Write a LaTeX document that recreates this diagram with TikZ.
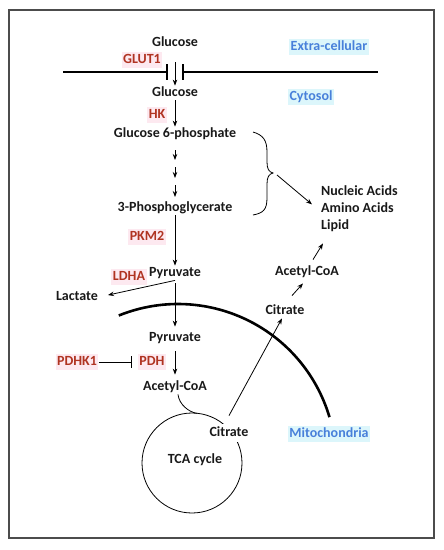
\documentclass[tikz,border=0pt]{standalone}
\usepackage{fontspec}
\setmainfont{Carlito}
\usetikzlibrary{arrows.meta,calc}
\definecolor{redt}{RGB}{176,52,34}
\definecolor{pinkbg}{RGB}{253,233,240}
\definecolor{bluet}{RGB}{72,128,218}
\definecolor{cyanbg}{RGB}{220,246,251}
\begin{document}
\begin{tikzpicture}[x=1pt,y=-1pt,
 lbl/.style={font=\fontsize{14}{16}\selectfont\bfseries, text=black!90, inner sep=1pt, text height=9.8pt, text depth=2.6pt},
 enz/.style={lbl, text=redt, fill=pinkbg, inner sep=1.5pt},
 comp/.style={lbl, text=bluet, fill=cyanbg, inner sep=1.5pt},
 arr/.style={-{Stealth[length=6pt,width=4.5pt]}, line width=0.8pt},
 memb/.style={line width=2.6pt},
 thin/.style={line width=0.8pt}]
\useasboundingbox (0,0) rectangle (444,550);
\draw[line width=1.3pt, black!70] (9,10) rectangle (434,538);

% nodes
\node[lbl] (glu1) at (175,43) {Glucose};
\node[comp] (extra) at (329,47) {Extra-cellular};
\node[enz] (glut) at (142,60) {GLUT1};
\node[lbl] (glu2) at (175,93) {Glucose};
\node[comp] (cyto) at (311,97) {Cytosol};
\node[enz] (hk) at (157,115) {HK};
\node[lbl] (g6p) at (175,134) {Glucose 6-phosphate};
\node[lbl] (pg) at (175,208) {3-Phosphoglycerate};
\node[lbl, anchor=west] (na) at (320,192) {Nucleic Acids};
\node[lbl, anchor=west] (aa) at (320,209) {Amino Acids};
\node[lbl, anchor=west] (lip) at (320,226) {Lipid};
\node[enz] (pkm) at (147,237) {PKM2};
\node[lbl] (pyr1) at (175,273) {Pyruvate};
\node[enz] (ldha) at (129,277) {LDHA};
\node[lbl] (lac) at (77,297) {Lactate};
\node[lbl] (pyr2) at (175,338) {Pyruvate};
\node[enz] (pdhk) at (77,362) {PDHK1};
\node[enz] (pdh) at (152,362) {PDH};
\node[lbl] (acoa1) at (175,387) {Acetyl-CoA};
\node[circle, draw, thin, minimum size=100pt, inner sep=0pt] (circ) at (192,463) {};
\node[lbl] (tca) at (195,460) {TCA cycle};
\node[lbl, fill=white, inner sep=3pt] (cit1) at (229,433) {Citrate};
\node[lbl] (cit2) at (285,311) {Citrate};
\node[lbl] (acoa2) at (307,272) {Acetyl-CoA};
\node[comp] (mito) at (329,434) {Mitochondria};

% membrane
\draw[memb] (63,72) -- (167,72);
\draw[memb] (183,72) -- (378,72);
\draw[line width=2pt] (167,64) -- (167,80);
\draw[line width=2pt] (183,64) -- (183,80);

% mitochondrial membrane
\draw[memb] (118.8,315.5) arc[start angle=112, end angle=16.5, radius=158pt];

% glycolysis arrows
\draw[arr, shorten <=12pt] (glu1) -- (glu2);
\draw[arr] (glu2) -- (g6p);
\coordinate (d1a) at (175,150); \coordinate (d1b) at (175,160);
\coordinate (d2a) at (175,167); \coordinate (d2b) at (175,178);
\coordinate (d3a) at (175,185); \coordinate (d3b) at (175,197);
\draw[arr] (d1a) -- (d1b);
\draw[arr] (d2a) -- (d2b);
\draw[arr] (d3a) -- (d3b);
\draw[arr] (pg) -- (pyr1);
\draw[arr, shorten >=9pt] (pyr1.south) -- (lac.east);
\draw[arr, shorten <=3pt, shorten >=4pt] (pyr1) -- (pyr2);
\draw[arr, shorten <=6pt, shorten >=5pt] (pyr2) -- (acoa1);
\draw[thin, -{Bar[width=12pt]}, shorten >=6pt] (pdhk.east) -- (pdh.west);

% acetyl-CoA into TCA
\coordinate (tcatop) at (197,413.3);
\draw[thin] ([xshift=3pt]acoa1.south) .. controls +(1,10) and +(-8,-1) .. (tcatop);

% citrate export
\draw[arr] ([yshift=8pt]cit1.north) -- ([xshift=-3pt]cit2.south);
\draw[arr] ($(cit2.north)+(7,-8)$) -- ($(acoa2.south)+(-4,4)$);
\draw[arr] ($(acoa2.north)+(6,-5)$) -- ($(lip.south west)+(3,10)$);

% brace
\coordinate (btip) at (273,173);
\draw[thin] (253,132) .. controls (263,135) and (267,140) .. (267,152) -- (267,162)
  .. controls (267,169) and (269,172) .. (btip)
  .. controls (269,174) and (267,177) .. (267,184) -- (267,198)
  .. controls (267,210) and (263,213) .. (253,215);
\draw[arr] ($(btip)+(4,2)$) -- ($(na.south west)+(-8,5)$);
\end{tikzpicture}
\end{document}
